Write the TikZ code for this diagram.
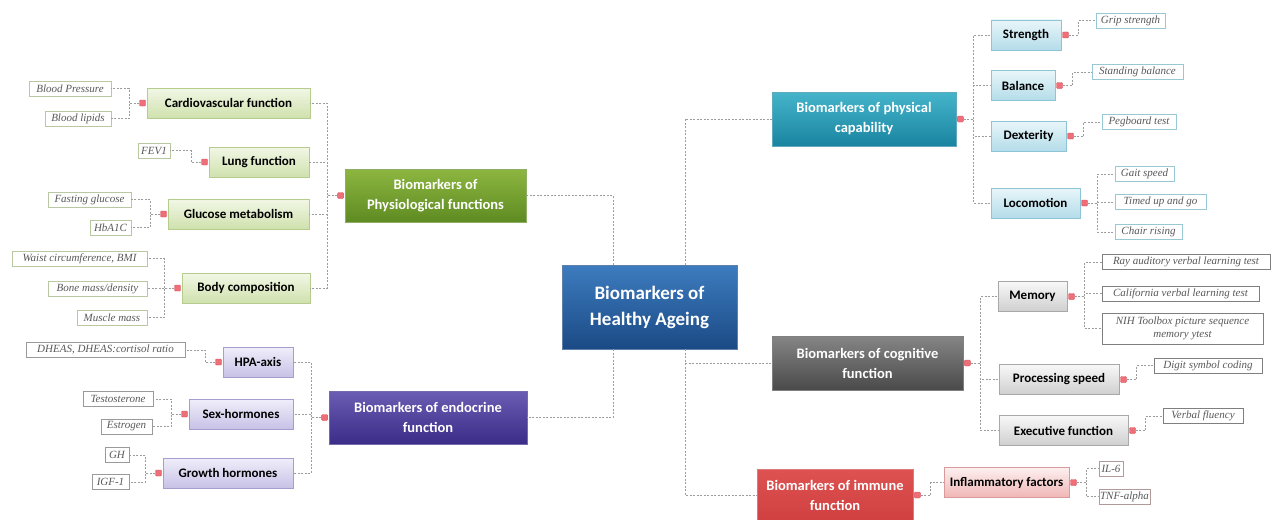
\documentclass[tikz,border=0pt]{standalone}
\usepackage{fontspec}
\newfontfamily\labfont{Carlito}
\newfontfamily\leaffont{Liberation Serif}
\definecolor{cblueT}{HTML}{3D7CBF}\definecolor{cblueB}{HTML}{1B4A85}
\definecolor{greenT}{HTML}{8DB640}\definecolor{greenB}{HTML}{5E8B22}
\definecolor{purpT}{HTML}{6B5DB3}\definecolor{purpB}{HTML}{3A2C88}
\definecolor{tealT}{HTML}{45B5CB}\definecolor{tealB}{HTML}{1A84A0}
\definecolor{greyT}{HTML}{858585}\definecolor{greyB}{HTML}{4A4A4A}
\definecolor{redT}{HTML}{DE5252}\definecolor{redB}{HTML}{D04040}
\definecolor{sgT}{HTML}{F2F7E6}\definecolor{sgB}{HTML}{CFE1AD}\definecolor{sgD}{HTML}{B5CC8E}
\definecolor{spT}{HTML}{F0EEFA}\definecolor{spB}{HTML}{C8C1E6}\definecolor{spD}{HTML}{A69DCF}
\definecolor{stT}{HTML}{E9F6FA}\definecolor{stB}{HTML}{B3DCE9}\definecolor{stD}{HTML}{8EC5D6}
\definecolor{syT}{HTML}{F8F8F8}\definecolor{syB}{HTML}{CFCFCF}\definecolor{syD}{HTML}{A8A8A8}
\definecolor{srT}{HTML}{FDF0F0}\definecolor{srB}{HTML}{F0B5B5}\definecolor{srD}{HTML}{D89A9A}
\definecolor{lgD}{HTML}{B8C8A0}\definecolor{lpD}{HTML}{9A9A9A}\definecolor{ltD}{HTML}{98C8D4}
\definecolor{lyD}{HTML}{7F7F7F}\definecolor{lrD}{HTML}{B09A9A}
\definecolor{leaftext}{HTML}{595959}
\definecolor{pinfill}{HTML}{EE6F78}\definecolor{pindraw}{HTML}{D9505C}
\definecolor{conncol}{HTML}{9C9C9C}
\tikzset{
  conn/.style={draw=conncol, dash pattern=on 2pt off 1.5pt, line width=0.8pt},
  pin/.style={rectangle, rounded corners=1pt, fill=pinfill, draw=pindraw, line width=0.4pt, minimum size=6pt, inner sep=0pt},
  rootbox/.style={rectangle, top color=cblueT, bottom color=cblueB, draw=cblueB!70!white, text=white,
    font=\labfont\bfseries\fontsize{19}{26}\selectfont, align=center, inner sep=0pt},
  topbox/.style 2 args={rectangle, top color=#1, bottom color=#2, draw=#2!70!white, text=white,
    font=\labfont\bfseries\fontsize{14.5}{20}\selectfont, align=center, inner sep=0pt},
  subbox/.style n args={3}{rectangle, top color=#1, bottom color=#2, draw=#3, line width=0.6pt,
    font=\labfont\bfseries\fontsize{13}{15}\selectfont, inner sep=0pt, minimum height=30pt},
  leaf/.style={rectangle, fill=white, draw=#1, line width=0.6pt, text=leaftext,
    font=\leaffont\itshape\fontsize{11}{13}\selectfont, inner sep=1pt, minimum height=15pt, align=center},
  gsub/.style={subbox={sgT}{sgB}{sgD}}, psub/.style={subbox={spT}{spB}{spD}},
  tsub/.style={subbox={stT}{stB}{stD}}, ysub/.style={subbox={syT}{syB}{syD}},
  rsub/.style={subbox={srT}{srB}{srD}},
  gleaf/.style={leaf=lgD}, pleaf/.style={leaf=lpD}, tleaf/.style={leaf=ltD},
  yleaf/.style={leaf=lyD}, rleaf/.style={leaf=lrD},
}
\begin{document}
\begin{tikzpicture}[x=1pt,y=-1pt]
\fill[white] (0,0) rectangle (1273,519);
\useasboundingbox (0,0) rectangle (1273,519);

% root and top-level nodes
\node[rootbox, minimum width=175pt, minimum height=84pt] (center) at (649.5,307) {Biomarkers of\\Healthy Ageing};
\node[topbox={greenT}{greenB}, minimum width=181pt, minimum height=53pt] (phys) at (435.5,195.5) {Biomarkers of\\Physiological functions};
\node[topbox={purpT}{purpB}, minimum width=198pt, minimum height=53pt] (endo) at (428,417.5) {Biomarkers of endocrine\\function};
\node[topbox={tealT}{tealB}, minimum width=184pt, minimum height=54pt] (physcap) at (864,119) {Biomarkers of physical\\capability};
\node[topbox={greyT}{greyB}, minimum width=191pt, minimum height=54pt] (cog) at (867.5,363) {Biomarkers of cognitive\\function};
\node[topbox={redT}{redB}, minimum width=156pt, minimum height=52pt] (imm) at (835,495) {Biomarkers of immune\\function};

% left sub nodes
\node[gsub, minimum width=163pt] (cardio) at (228.5,103) {Cardiovascular function};
\node[gsub, minimum width=100pt] (lung) at (259,162) {Lung function};
\node[gsub, minimum width=141pt] (gluc) at (238.5,214) {Glucose metabolism};
\node[gsub, minimum width=128pt] (body) at (246,288) {Body composition};
\node[psub, minimum width=70pt] (hpa) at (258,362) {HPA-axis};
\node[psub, minimum width=104pt] (sex) at (241,414) {Sex-hormones};
\node[psub, minimum width=130pt] (growth) at (228,473) {Growth hormones};

% right sub nodes
\node[tsub, minimum width=70pt] (strength) at (1026,35) {Strength};
\node[tsub, minimum width=64pt] (balance) at (1023,85.5) {Balance};
\node[tsub, minimum width=75pt] (dext) at (1028.5,136) {Dexterity};
\node[tsub, minimum width=89pt] (loco) at (1035.5,203) {Locomotion};
\node[ysub, minimum width=69pt] (memory) at (1032.5,296.5) {Memory};
\node[ysub, minimum width=120pt] (proc) at (1059,379.5) {Processing speed};
\node[ysub, minimum width=129pt] (exec) at (1063.5,430.5) {Executive function};
\node[rsub, minimum width=125pt] (infl) at (1006.5,482.5) {Inflammatory factors};

% left leaves
\node[gleaf, minimum width=82pt] (bp) at (70,88.5) {Blood Pressure};
\node[gleaf, minimum width=66pt] (bl) at (78,118.5) {Blood lipids};
\node[gleaf, minimum width=32pt] (fev) at (154,150.5) {FEV1};
\node[gleaf, minimum width=83pt] (fg) at (89.5,199.5) {Fasting glucose};
\node[gleaf, minimum width=41pt] (hba) at (110.5,227.5) {HbA1C};
\node[gleaf, minimum width=135pt] (waist) at (79.5,258.5) {Waist circumference, BMI};
\node[gleaf, minimum width=99pt] (bone) at (97.5,288.5) {Bone mass/density};
\node[gleaf, minimum width=70pt] (muscle) at (112,317.5) {Muscle mass};
\node[pleaf, minimum width=159pt] (dheas) at (105.5,350) {DHEAS, DHEAS:cortisol ratio};
\node[pleaf, minimum width=70pt] (testo) at (118,399) {Testosterone};
\node[pleaf, minimum width=51pt] (estro) at (126.5,426.5) {Estrogen};
\node[pleaf, minimum width=24pt] (gh) at (117,455) {GH};
\node[pleaf, minimum width=37pt] (igf) at (110.5,482) {IGF-1};

% right leaves
\node[tleaf, minimum width=69pt] (grip) at (1130.5,20.5) {Grip strength};
\node[tleaf, minimum width=91pt] (stand) at (1137.5,72) {Standing balance};
\node[tleaf, minimum width=74pt] (peg) at (1139,122) {Pegboard test};
\node[tleaf, minimum width=59pt] (gait) at (1144.5,174) {Gait speed};
\node[tleaf, minimum width=91pt] (timed) at (1160.5,202) {Timed up and go};
\node[tleaf, minimum width=67pt] (chair) at (1148.5,232) {Chair rising};
\node[yleaf, minimum width=168pt] (ray) at (1186,262) {Ray auditory verbal learning test};
\node[yleaf, minimum width=157pt] (calif) at (1180.5,293.5) {California verbal learning test};
\node[yleaf, minimum width=161pt, minimum height=31pt] (nih) at (1182.5,328.5) {NIH Toolbox picture sequence\\memory ytest};
\node[yleaf, minimum width=108pt] (digit) at (1208,365.5) {Digit symbol coding};
\node[yleaf, minimum width=80pt] (verbal) at (1203,416) {Verbal fluency};
\node[rleaf, minimum width=24pt] (il6) at (1111,468.5) {IL-6};
\node[rleaf, minimum width=51pt] (tnf) at (1124.5,496.5) {TNF-alpha};

% pins on the left of left-side parents
\foreach \n in {phys,endo,cardio,lung,gluc,body,hpa,sex,growth}
  \node[pin, anchor=east] (\n-p) at ([xshift=-1pt]\n.west) {};
% pins on the right of right-side parents
\foreach \n in {physcap,cog,imm,strength,balance,dext,loco,memory,proc,exec,infl}
  \node[pin, anchor=west] (\n-p) at ([xshift=1pt]\n.east) {};

% root connectors
\draw[conn] ([xshift=-36.5pt]center.north) |- (phys.east);
\draw[conn] ([xshift=35.5pt]center.north) |- (physcap.west);
\draw[conn] ([xshift=-36.5pt]center.south) |- (endo.east);
\draw[conn] ([xshift=35.5pt]center.south) |- (cog.west);
\draw[conn] ([xshift=35.5pt]center.south) |- (imm.west);

% left-side connectors
\foreach \p/\c in {phys/cardio,phys/lung,phys/gluc,phys/body,endo/hpa,endo/sex,endo/growth}
  \draw[conn] (\p-p.west) -- ++(-10,0) |- (\c.east);
\foreach \p/\c in {cardio/bp,cardio/bl,lung/fev,gluc/fg,gluc/hba,body/waist,body/bone,body/muscle,
                   hpa/dheas,sex/testo,sex/estro,growth/gh,growth/igf}
  \draw[conn] (\p-p.west) -- ++(-10,0) |- (\c.east);

% right-side connectors
\foreach \p/\c in {physcap/strength,physcap/balance,physcap/dext,physcap/loco,cog/memory,cog/proc,cog/exec,imm/infl,
                   strength/grip,balance/stand,dext/peg,loco/gait,loco/timed,loco/chair,
                   memory/ray,memory/calif,memory/nih,proc/digit,exec/verbal,infl/il6,infl/tnf}
  \draw[conn] (\p-p.east) -- ++(10,0) |- (\c.west);
\end{tikzpicture}
\end{document}
